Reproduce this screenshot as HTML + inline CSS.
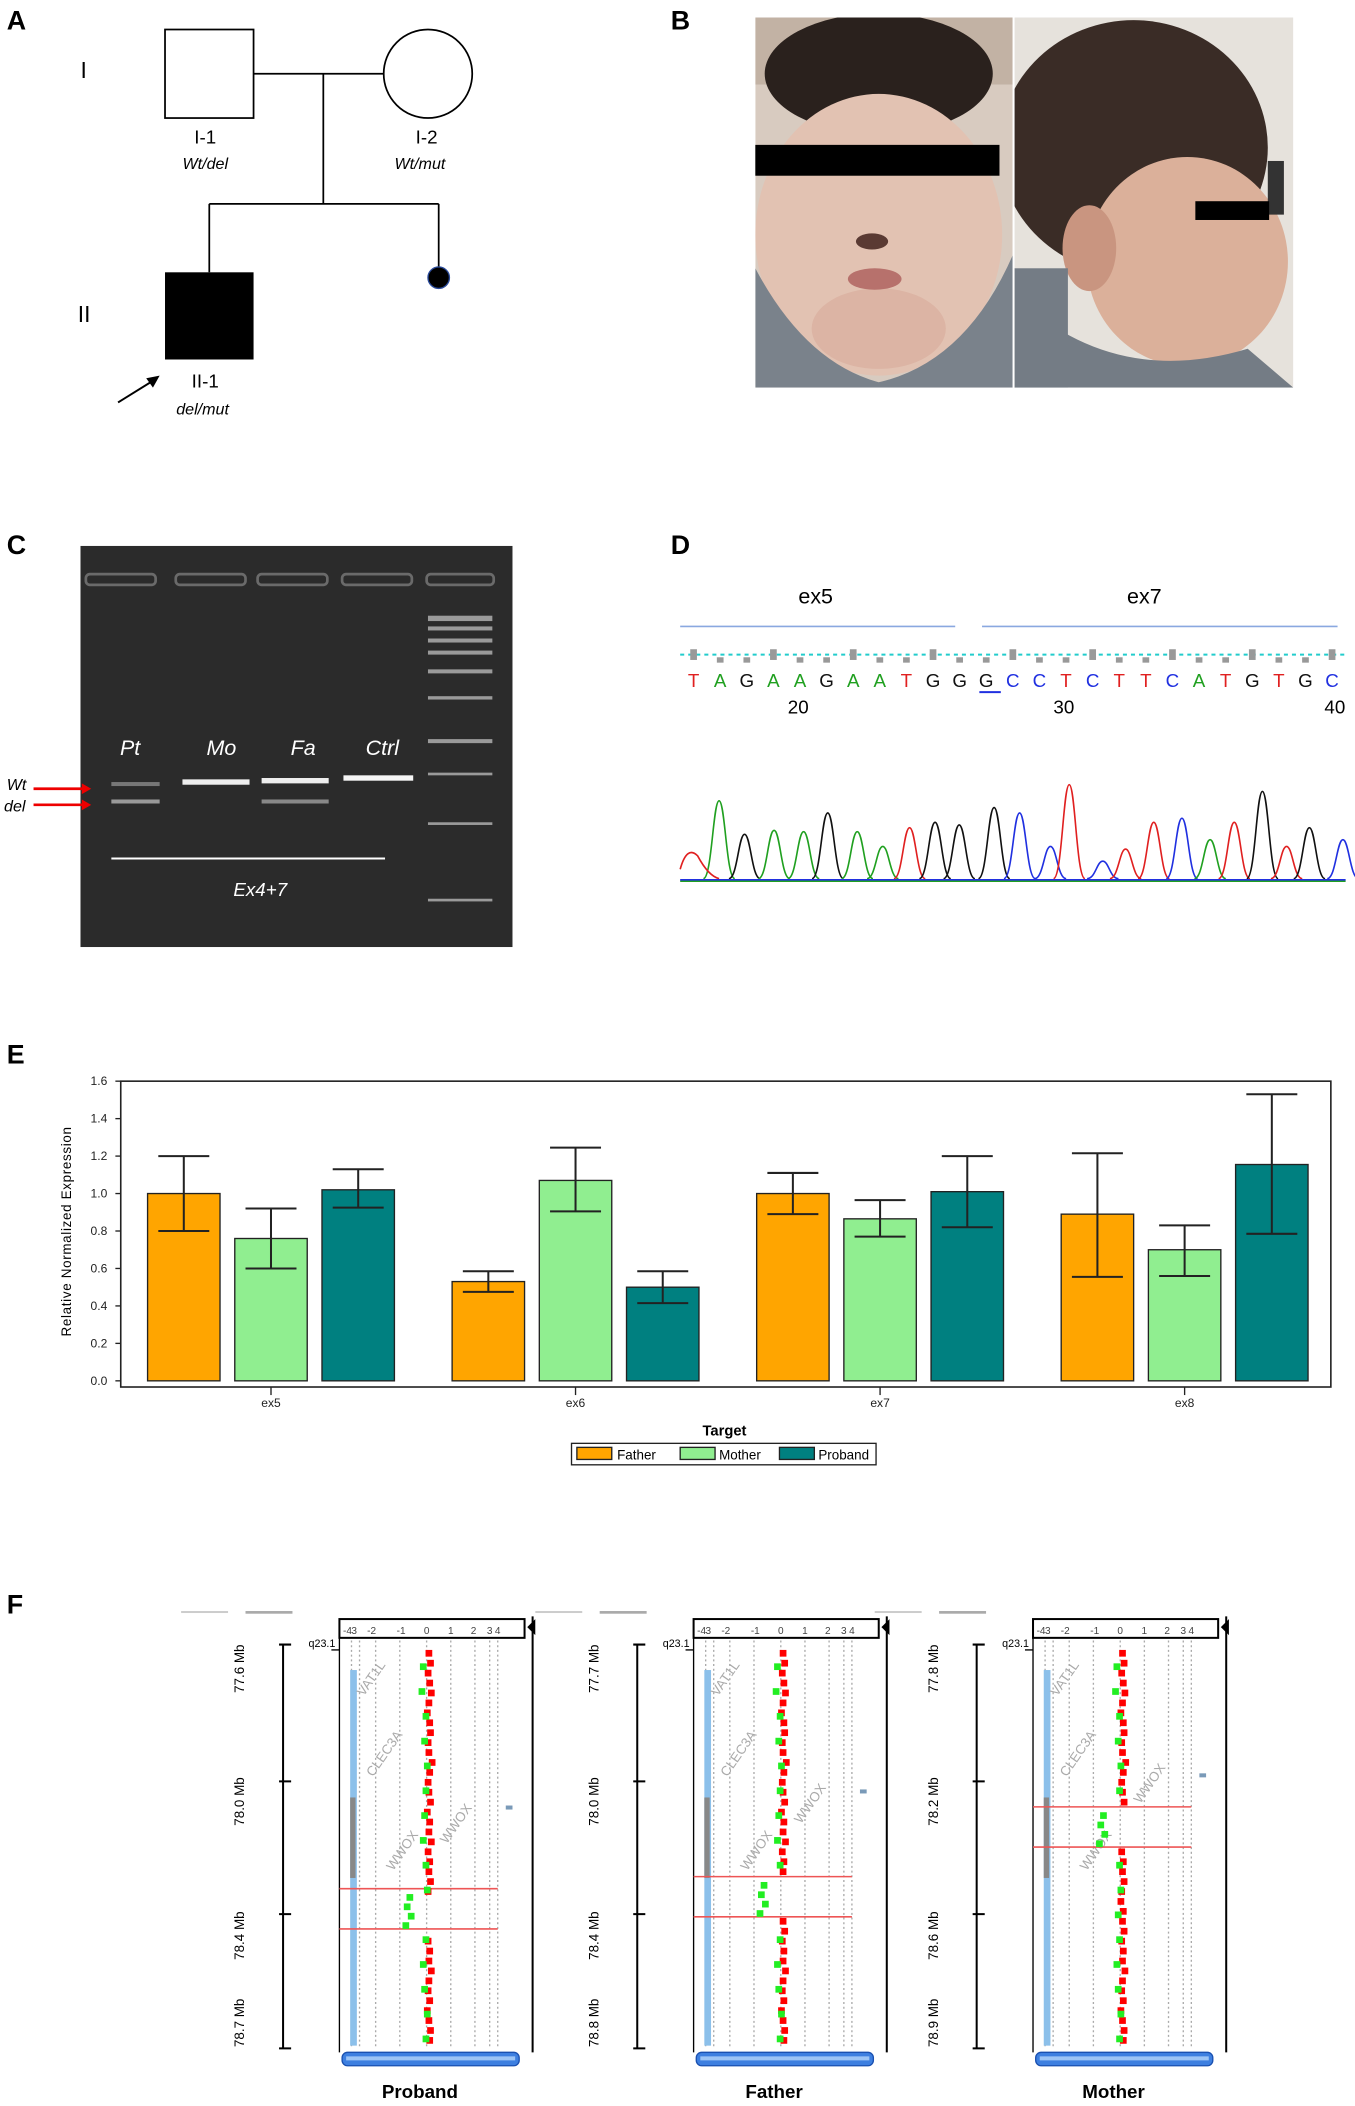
<!DOCTYPE html>
<html><head><meta charset="utf-8"><style>
html,body{margin:0;padding:0;background:#fff;}
svg{display:block;}
text{font-family:"Liberation Sans",sans-serif;}
</style></head><body>
<svg id="fig" width="1355" height="2106" viewBox="0 0 1010 1570" preserveAspectRatio="none" xmlns="http://www.w3.org/2000/svg">
<rect width="1010" height="1570" fill="#fff"/>

<!-- Panel A pedigree -->
<g>
<text x="5" y="22" font-size="20" font-weight="bold">A</text>
<text x="60" y="58" font-size="17">I</text>
<text x="58" y="240" font-size="17">II</text>
<rect x="123" y="22" width="66" height="66" fill="#fff" stroke="#000" stroke-width="1.3"/>
<circle cx="319" cy="55" r="33" fill="#fff" stroke="#000" stroke-width="1.3"/>
<path d="M189 55H286M241 55V152M156 152H327M156 152V203M327 152V200" stroke="#000" stroke-width="1.3" fill="none"/>
<circle cx="327" cy="207" r="8" fill="#000" stroke="#2a4a9a" stroke-width="1"/>
<rect x="123" y="203" width="66" height="65" fill="#000"/>
<text x="153" y="107" font-size="14" text-anchor="middle">I-1</text>
<text x="153" y="126" font-size="12" font-style="italic" text-anchor="middle">Wt/del</text>
<text x="318" y="107" font-size="14" text-anchor="middle">I-2</text>
<text x="313" y="126" font-size="12" font-style="italic" text-anchor="middle">Wt/mut</text>
<text x="153" y="289" font-size="14" text-anchor="middle">II-1</text>
<text x="151" y="309" font-size="12" font-style="italic" text-anchor="middle">del/mut</text>
<path d="M88 300L117 282" stroke="#000" stroke-width="1.5"/>
<path d="M119 280L109 282L114 289Z" fill="#000"/>
</g>

<!-- Panel B photos -->
<g>
<text x="500" y="22" font-size="20" font-weight="bold">B</text>
<clipPath id="cl"><rect x="563" y="13" width="192" height="276"/></clipPath>
<clipPath id="cr"><rect x="756" y="13" width="208" height="276"/></clipPath>
<g clip-path="url(#cl)">
<rect x="563" y="13" width="192" height="276" fill="#d8cbc0"/>
<rect x="563" y="13" width="192" height="50" fill="#c2b2a4"/>
<ellipse cx="655" cy="55" rx="85" ry="45" fill="#2a211d"/>
<ellipse cx="655" cy="175" rx="92" ry="105" fill="#e2c2b2"/>
<ellipse cx="655" cy="245" rx="50" ry="30" fill="#dcb4a4"/>
<path d="M563 200Q600 270 655 285Q720 270 755 190V289H563Z" fill="#7a828b"/>
<ellipse cx="650" cy="180" rx="12" ry="6" fill="#5a3a33"/>
<ellipse cx="652" cy="208" rx="20" ry="8" fill="#b7716c"/>
</g>
<g clip-path="url(#cr)">
<rect x="756" y="13" width="208" height="276" fill="#e6e2dc"/>
<ellipse cx="845" cy="110" rx="100" ry="95" fill="#3a2c26"/>
<ellipse cx="885" cy="195" rx="75" ry="78" fill="#dbb09a"/>
<ellipse cx="812" cy="185" rx="20" ry="32" fill="#c99580"/>
<path d="M756 220Q830 290 930 260L964 289H756Z" fill="#747c85"/>
<rect x="756" y="200" width="40" height="89" fill="#747c85"/>
<rect x="945" y="120" width="12" height="40" fill="#333"/>
</g>
<line x1="755.5" y1="13" x2="755.5" y2="289" stroke="#fff" stroke-width="1.5"/>
<rect x="563" y="108" width="182" height="23" fill="#000"/>
<rect x="891" y="150" width="55" height="14" fill="#000"/>
</g>

<!-- Panel C gel -->
<g>
<text x="5" y="413" font-size="20" font-weight="bold">C</text>
<rect x="60" y="407" width="322" height="299" fill="#2b2b2b"/>
<g fill="none" stroke="#6a6a6a" stroke-width="2">
<rect x="64" y="428" width="52" height="8" rx="3"/><rect x="131" y="428" width="52" height="8" rx="3"/><rect x="192" y="428" width="52" height="8" rx="3"/><rect x="255" y="428" width="52" height="8" rx="3"/><rect x="318" y="428" width="50" height="8" rx="3"/>
</g>
<g fill="#9a9a9a">
<rect x="319" y="459" width="48" height="4"/><rect x="319" y="467" width="48" height="3"/><rect x="319" y="476" width="48" height="3"/><rect x="319" y="485" width="48" height="3"/><rect x="319" y="499" width="48" height="3"/><rect x="319" y="519" width="48" height="2.5"/><rect x="319" y="551" width="48" height="3"/><rect x="319" y="576" width="48" height="2"/><rect x="319" y="613" width="48" height="2"/><rect x="319" y="670" width="48" height="2"/>
</g>
<g font-size="16" font-style="italic" fill="#fff" text-anchor="middle">
<text x="97" y="563">Pt</text><text x="165" y="563">Mo</text><text x="226" y="563">Fa</text><text x="285" y="563">Ctrl</text>
<text x="194" y="668" font-size="14">Ex4+7</text>
</g>
<rect x="83" y="583" width="36" height="3" fill="#777"/>
<rect x="83" y="596" width="36" height="3" fill="#999"/>
<rect x="136" y="581" width="50" height="4" fill="#eee"/>
<rect x="195" y="580" width="50" height="4" fill="#eee"/>
<rect x="195" y="596" width="50" height="3" fill="#888"/>
<rect x="256" y="578" width="52" height="4" fill="#f5f5f5"/>
<line x1="83" y1="640" x2="287" y2="640" stroke="#fff" stroke-width="1.5"/>
<text x="5" y="589" font-size="12" font-style="italic">Wt</text>
<text x="3" y="605" font-size="12" font-style="italic">del</text>
<path d="M25 588H64M25 600H64" stroke="#e00" stroke-width="2"/>
<path d="M68 588L61 584V592ZM68 600L61 596V604Z" fill="#e00"/>
</g>

<!-- Panel D sequence -->
<g>
<text x="500" y="413" font-size="20" font-weight="bold">D</text>
<text x="608" y="450" font-size="16" text-anchor="middle">ex5</text>
<text x="853" y="450" font-size="16" text-anchor="middle">ex7</text>
<path d="M507 467H712M732 467H997" stroke="#8aa8e0" stroke-width="1.2"/>
<line x1="507" y1="488" x2="1003" y2="488" stroke="#2cc" stroke-width="1.5" stroke-dasharray="3,3"/>
<g id="bases"></g>
<text x="595" y="532" font-size="14" text-anchor="middle">20</text>
<text x="793" y="532" font-size="14" text-anchor="middle">30</text>
<text x="995" y="532" font-size="14" text-anchor="middle">40</text>
<g id="chromat"></g>
</g>

<!-- Panel E bar chart -->
<g>
<text x="5" y="793" font-size="20" font-weight="bold">E</text>
<rect x="90" y="806" width="902" height="228" fill="#fff" stroke="#222" stroke-width="1.2"/>
<g id="eax"></g>
<g id="ebars"></g>
<text transform="translate(53,918) rotate(-90)" font-size="10" text-anchor="middle" letter-spacing="0.5">Relative Normalized Expression</text>
<text x="540" y="1070" font-size="11" font-weight="bold" text-anchor="middle">Target</text>
<g>
<rect x="426" y="1076" width="227" height="16" fill="#fff" stroke="#222"/>
<rect x="430" y="1079" width="26" height="9" fill="#ffa500" stroke="#222"/><text x="460" y="1088" font-size="10">Father</text>
<rect x="507" y="1079" width="26" height="9" fill="#90ee90" stroke="#222"/><text x="536" y="1088" font-size="10">Mother</text>
<rect x="581" y="1079" width="26" height="9" fill="#008080" stroke="#222"/><text x="610" y="1088" font-size="10">Proband</text>
</g>
</g>

<!-- Panel F CNV -->
<g>
<text x="5" y="1203" font-size="20" font-weight="bold">F</text>
<g id="cnv"></g>
</g>
</svg>
<script>
const NS="http://www.w3.org/2000/svg";
function mk(tag,attrs,parent){const e=document.createElementNS(NS,tag);for(const k in attrs)e.setAttribute(k,attrs[k]);parent.appendChild(e);return e;}

// ---- Panel D data ----
const baseSeq=["T","A","G","A","A","G","A","A","T","G","G","G","C","C","T","C","T","T","C","A","T","G","T","G","C"];
const peakPos=[536,555,577,599,617,639,658,678,697,715,741,760,783,797,822,839,860,881,902,920,941,959,976,1001];
const peakTop=[589,614,611,612,598,612,623,609,605,607,594,598,623,577,634,625,605,602,618,605,582,623,609,618];
const peakBase=["A","G","A","A","G","A","A","T","G","G","G","C","C","T","C","T","T","C","A","T","G","T","G","C"];
const baseColor={T:"#e02020",A:"#20a020",G:"#111",C:"#2030e0"};
const bases=document.getElementById("bases");
baseSeq.forEach((b,i)=>{
  const x=517+i*19.83;
  const t=mk("text",{x:x,y:512,"font-size":14,"text-anchor":"middle",fill:baseColor[b]},bases);
  t.textContent=b;
  
  
  mk("rect",{x:x-2.5,y:i%3==0?484:490,width:5,height:i%3==0?8:4,fill:"#999"},bases);
});
mk("line",{x1:730,y1:516,x2:746,y2:516,stroke:"#2030e0","stroke-width":1.5},bases);
const ch=document.getElementById("chromat");
const shift=8;
const baseY=647+shift;
peakPos.forEach((px,i)=>{
  const top=peakTop[i]+shift,w=9;
  const p=mk("path",{d:`M${px-w*1.3} ${baseY} C${px-w*0.6} ${baseY} ${px-w*0.5} ${top} ${px} ${top} C${px+w*0.5} ${top} ${px+w*0.6} ${baseY} ${px+w*1.3} ${baseY}`,fill:"none",stroke:baseColor[peakBase[i]],"stroke-width":1.2},ch);
  
  
});
mk("path",{d:`M507 ${baseY-7}Q512 ${baseY-25} 520 ${baseY-17}Q528 ${baseY-2} 536 ${baseY}`,fill:"none",stroke:"#e02020","stroke-width":1.2},ch);
mk("line",{x1:507,y1:baseY+1,x2:1003,y2:baseY+1,stroke:"#2030e0","stroke-width":1.5},ch);
mk("line",{x1:507,y1:baseY+2,x2:1003,y2:baseY+2,stroke:"#20a020","stroke-width":1},ch);

// ---- Panel E data ----
const targets=["ex5","ex6","ex7","ex8"];
const samples=["Father","Mother","Proband"];
const fatherVals=[1.0,0.53,1.0,0.89];
const motherVals=[0.76,1.07,0.865,0.70];
const probandVals=[1.02,0.50,1.01,1.155];
const fatherLo=[0.80,0.475,0.89,0.555], fatherHi=[1.20,0.585,1.11,1.215];
const motherLo=[0.60,0.905,0.77,0.56], motherHi=[0.92,1.245,0.965,0.83];
const probandLo=[0.925,0.415,0.82,0.785], probandHi=[1.13,0.585,1.20,1.53];
const yTicks=["0.0","0.2","0.4","0.6","0.8","1.0","1.2","1.4","1.6"];
const sampleColors=["#ffa500","#90ee90","#008080"];

const yMin=0,yMax=1.6,y0px=1029.4,y1px=806;
function ey(v){return y0px-(v-yMin)/(yMax-yMin)*(y0px-y1px);}
function ex(gi,si){return 202+gi*227+(si-1)*65;}
const eax=document.getElementById("eax");
yTicks.forEach(t=>{
  const y=ey(parseFloat(t));
  const tx=mk("text",{x:80,y:y+3,"font-size":9,"text-anchor":"end",fill:"#222"},eax);
  tx.textContent=t;
  
  
  mk("line",{x1:86,y1:y,x2:90,y2:y,stroke:"#222"},eax);
});
targets.forEach((t,gi)=>{
  const cx=ex(gi,1);
  mk("line",{x1:cx,y1:1034,x2:cx,y2:1040,stroke:"#222"},eax);
  const tx=mk("text",{x:cx,y:1049,"font-size":9,"text-anchor":"middle",fill:"#222"},eax);
  tx.textContent=t;
  
  
});
const ebars=document.getElementById("ebars");
const vals=[fatherVals,motherVals,probandVals],lows=[fatherLo,motherLo,probandLo],highs=[fatherHi,motherHi,probandHi];
targets.forEach((t,gi)=>{
  samples.forEach((s,si)=>{
    const cx=ex(gi,si),v=vals[si][gi];
    const r=mk("rect",{x:cx-27,y:ey(v),width:54,height:ey(0)-ey(v),fill:sampleColors[si],stroke:"#222","stroke-width":1},ebars);
    
    
    const lo=ey(lows[si][gi]),hi=ey(highs[si][gi]);
    const eb=mk("path",{d:`M${cx} ${lo}V${hi}M${cx-19} ${lo}H${cx+19}M${cx-19} ${hi}H${cx+19}`,stroke:"#222","stroke-width":1.5,fill:"none"},ebars);
    
    
  });
});

// ---- Panel F data ----
const panelNames=["Proband","Father","Mother"];
const panelAxisLabels=[["77.6 Mb","78.0 Mb","78.4 Mb","78.7 Mb"],["77.7 Mb","78.0 Mb","78.4 Mb","78.8 Mb"],["77.8 Mb","78.2 Mb","78.6 Mb","78.9 Mb"]];
const delStart=[1408,1399,1347], delEnd=[1438,1429,1377];
const redOffsets=[2,4,1,3,5,2,0,3,4,1,2,6,3,1,2,4,0,3,2,5,1,3,2,4,1,0,3,2,4,1,3,2,5,2,1,3,0,2,4,3];
const greenOffsetsP=[-5,-6,-3,-4,-2,-3,-4,-5,-3,-2,-4,-3,-5,-4,-2,-3];
const probeLog2Del=[-15,-17,-14,-18];
const cnv=document.getElementById("cnv");
const px0=[253,517,770];
panelNames.forEach((nm,pi)=>{
  const g=mk("g",{},cnv);
  
  
  const L=px0[pi],axX=L-42,zero=L+65,top=1226,bot=1527;
  mk("path",{d:`M${axX} ${top}V${bot}M${axX-3} ${top}H${axX+6}M${axX-3} 1328H${axX+6}M${axX-3} 1427H${axX+6}M${axX-3} ${bot}H${axX+6}`,stroke:"#000","stroke-width":1.5,fill:"none"},g);
  const tys=[1244,1343,1443,1508];
  panelAxisLabels[pi].forEach((lab,k)=>{
    const t=mk("text",{transform:`translate(${axX-29},${tys[k]}) rotate(-90)`,"font-size":10,"text-anchor":"middle"},g);
    t.textContent=lab;
    
    
  });
  const q=mk("text",{x:L-23,y:1228,"font-size":8},g);q.textContent="q23.1";
  mk("line",{x1:L-6,y1:1230,x2:L,y2:1230,stroke:"#000"},g);
  mk("rect",{x:L-70,y:1201,width:35,height:2,fill:"#aaa"},g);
  mk("rect",{x:L-118,y:1201,width:35,height:1.5,fill:"#ccc"},g);
  mk("rect",{x:L,y:1207,width:138,height:14,fill:"#fff",stroke:"#000","stroke-width":1.5},g);
  const ticks=["-4","3","-2","-1","0","1","2","3","4"],tx=[L+6,L+11,L+24,L+46,L+65,L+83,L+100,L+112,L+118];
  ticks.forEach((t,k)=>{const e=mk("text",{x:tx[k],y:1218,"font-size":7.5,"text-anchor":"middle",fill:"#444"},g);e.textContent=t;});
  mk("line",{x1:L+144,y1:1205,x2:L+144,y2:1530,stroke:"#000","stroke-width":1.5},g);
  mk("line",{x1:L,y1:1221,x2:L,y2:1530,stroke:"#000","stroke-width":1},g);
  mk("path",{d:`M${L+146} 1207L${L+140} 1213L${L+146} 1219Z`,fill:"#000"},g);
  [9,15,27,45,65,83,101,112,118].forEach(d=>mk("line",{x1:L+d,y1:1223,x2:L+d,y2:1527,stroke:"#aaa","stroke-dasharray":"1.5,2"},g));
  mk("rect",{x:L+8,y:1245,width:5,height:280,fill:"#8cc0ea"},g);
  mk("rect",{x:L+8,y:1340,width:4,height:60,fill:"#888"},g);
  const gl=["WWOX","CLEC3A","VAT1L"];
  [[L+40,1395],[L+25,1325],[L+18,1265]].forEach((p,k)=>{const e=mk("text",{transform:`translate(${p[0]},${p[1]}) rotate(-55)`,"font-size":10,fill:"#aaa"},g);e.textContent=gl[k];});
  const w2=mk("text",{transform:`translate(${L+80},${1375-pi*15}) rotate(-55)`,"font-size":10,fill:"#aaa"},g);w2.textContent="WWOX";
  mk("rect",{x:L+124,y:1346-pi*12,width:5,height:3,fill:"#7a9ab8"},g);
  mk("line",{x1:L,y1:delStart[pi],x2:L+118,y2:delStart[pi],stroke:"#e55","stroke-width":1.2},g);
  mk("line",{x1:L,y1:delEnd[pi],x2:L+118,y2:delEnd[pi],stroke:"#e55","stroke-width":1.2},g);
  redOffsets.forEach((o,k)=>{
    const y=1230+k*7.4;
    if(y>delStart[pi]&&y<delEnd[pi]) return;
    const d=mk("rect",{x:zero-2+o*0.6,y:y,width:5,height:5,fill:"#f00"},g);
    
    
  });
  greenOffsetsP.forEach((o,k)=>{
    const y=1240+k*18.5;
    if(y>delStart[pi]&&y<delEnd[pi]) return;
    const d=mk("rect",{x:zero+o,y:y,width:5,height:5,fill:"#2e2"},g);
    
    
  });
  probeLog2Del.forEach((o,k)=>{
    const y=delStart[pi]+4+k*7;
    const d=mk("rect",{x:zero+o,y:y,width:5,height:5,fill:"#2e2"},g);
    
    
  });
  mk("rect",{x:L+2,y:1530,width:132,height:10,rx:4,fill:"#3d7fe0",stroke:"#1a50b0"},g);
  mk("rect",{x:L+5,y:1533,width:126,height:3,fill:"#9cc4f5"},g);
  const nt=mk("text",{x:L+60,y:1564,"font-size":14,"font-weight":"bold","text-anchor":"middle"},g);
  nt.textContent=nm;
  
  
});
</script>
</body></html>
